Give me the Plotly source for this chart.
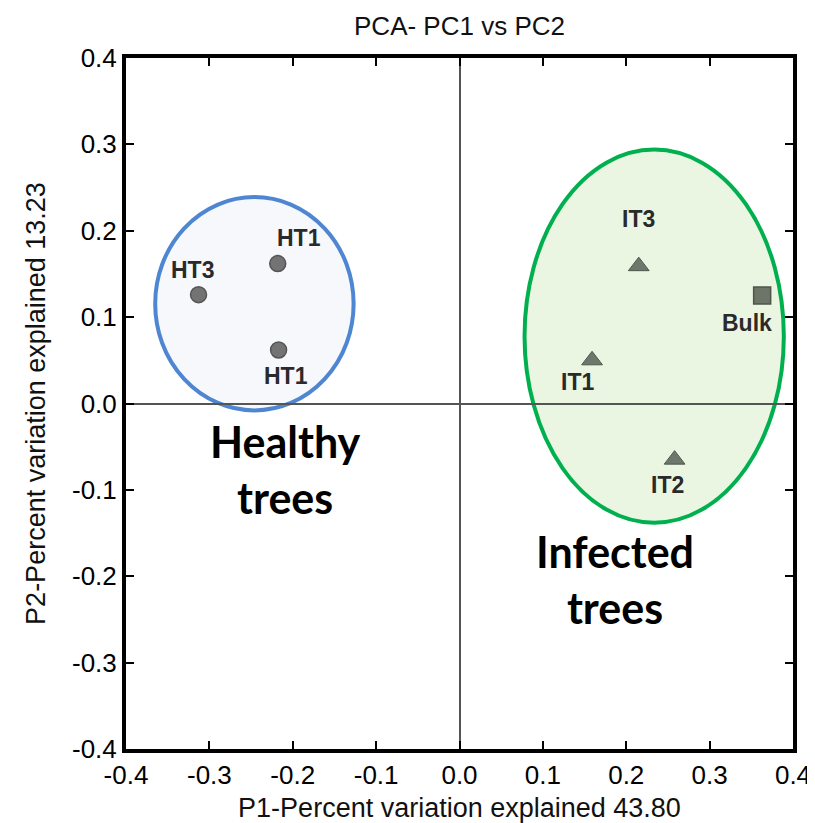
import plotly.graph_objects as go

# ---- data ----
labels = ["HT1", "HT3", "HT1", "IT3", "Bulk", "IT1", "IT2"]
pc1 = [-0.218, -0.313, -0.217, 0.215, 0.363, 0.159, 0.258]
pc2 = [0.162, 0.126, 0.062, 0.159, 0.125, 0.050, -0.065]
groups = ["healthy", "healthy", "healthy", "infected", "bulk", "infected", "infected"]
tick_vals = [-0.4, -0.3, -0.2, -0.1, 0.0, 0.1, 0.2, 0.3, 0.4]
tick_text = ["-0.4", "-0.3", "-0.2", "-0.1", "0.0", "0.1", "0.2", "0.3", "0.4"]

# group ellipse extents (data units)
healthy_box = [-0.365, -0.008, -0.127, 0.239]   # x0, y0, x1, y1
infected_box = [0.078, -0.138, 0.389, 0.294]
healthy_text_pos = [-0.209, -0.076]
infected_text_pos = [0.186, -0.204]

# label offsets in pixels (dx, dy) -- style only
label_shift = [(21, 26), (-6, 25), (7, -26), (0, 47), (-15, -27), (-15, -22), (-7, -25)]

marker_style = {
    "healthy": dict(symbol="circle", size=16, color="#737373", line=dict(color="#555555", width=1.5)),
    "infected": dict(symbol="triangle-up", size=18, color="#6f766b", line=dict(color="#4f564c", width=1)),
    "bulk": dict(symbol="square", size=17, color="#6d7569", line=dict(color="#4e554b", width=1.5)),
}

fig = go.Figure()

for g in ["healthy", "infected", "bulk"]:
    xs = [x for x, gg in zip(pc1, groups) if gg == g]
    ys = [y for y, gg in zip(pc2, groups) if gg == g]
    fig.add_trace(go.Scatter(x=xs, y=ys, mode="markers", marker=marker_style[g],
                             showlegend=False, hoverinfo="skip"))

for lab, x, y, (dx, dy) in zip(labels, pc1, pc2, label_shift):
    fig.add_annotation(x=x, y=y, text=f"<b>{lab}</b>", showarrow=False,
                       xshift=dx, yshift=dy,
                       font=dict(family="Liberation Sans, Arial", size=23, color="#2a2a2a"))

# ellipses
fig.add_shape(type="circle", xref="x", yref="y",
              x0=healthy_box[0], y0=healthy_box[1], x1=healthy_box[2], y1=healthy_box[3],
              line=dict(color="#4f86d2", width=4), fillcolor="rgba(220,228,242,0.25)", layer="below")
fig.add_shape(type="circle", xref="x", yref="y",
              x0=infected_box[0], y0=infected_box[1], x1=infected_box[2], y1=infected_box[3],
              line=dict(color="#00b04f", width=4), fillcolor="rgba(190,225,160,0.30)", layer="below")

fig.add_annotation(x=healthy_text_pos[0], y=healthy_text_pos[1], text="<b>Healthy<br>trees</b>",
                   showarrow=False, font=dict(family="Lato", size=43, color="#000000"))
fig.add_annotation(x=infected_text_pos[0], y=infected_text_pos[1], text="<b>Infected<br>trees</b>",
                   showarrow=False, font=dict(family="Lato", size=43, color="#000000"))

axis_common = dict(
    range=[-0.4, 0.4], tickvals=tick_vals, ticktext=tick_text,
    showgrid=False, zeroline=True, zerolinecolor="#555555", zerolinewidth=2,
    showline=True, linecolor="#000000", linewidth=4, mirror="allticks",
    ticks="inside", ticklen=8, tickwidth=2, tickcolor="#000000",
    tickfont=dict(family="Liberation Sans, Arial", size=26, color="#000000"),
)

fig.update_layout(
    width=815, height=823,
    margin=dict(l=118, r=27, t=50, b=82),
    paper_bgcolor="white", plot_bgcolor="white",
    title=dict(text="PCA- PC1 vs PC2", x=0.5, xanchor="center", xref="paper", y=0.978, yanchor="middle",
               font=dict(family="Liberation Sans, Arial", size=26, color="#111111")),
    xaxis=dict(**axis_common,
               title=dict(text="P1-Percent variation explained 43.80", standoff=10,
                          font=dict(family="Liberation Sans, Arial", size=27, color="#111111"))),
    yaxis=dict(**axis_common,
               title=dict(text="P2-Percent variation explained 13.23", standoff=20,
                          font=dict(family="Liberation Sans, Arial", size=27, color="#111111"))),
)

fig.write_html("out.html")
